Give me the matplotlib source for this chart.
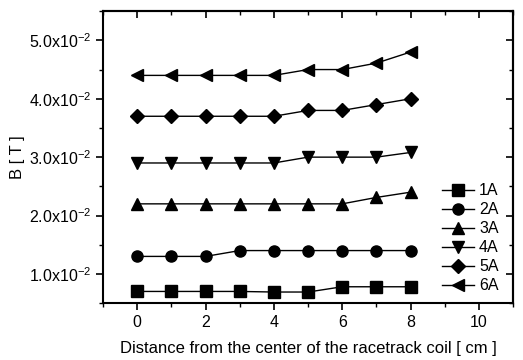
import matplotlib
matplotlib.use('Agg')
import matplotlib.pyplot as plt
from matplotlib.ticker import MultipleLocator, FuncFormatter

plt.rcParams['font.family'] = ['Liberation Sans', 'DejaVu Sans']
plt.rcParams['mathtext.fontset'] = 'custom'
plt.rcParams['mathtext.rm'] = 'Liberation Sans'
plt.rcParams['mathtext.it'] = 'Liberation Sans'

distance = [0, 1, 2, 3, 4, 5, 6, 7, 8]
b_1a = [0.0070, 0.0070, 0.0070, 0.0070, 0.0069, 0.0069, 0.0078, 0.0078, 0.0078]
b_2a = [0.0130, 0.0130, 0.0130, 0.0140, 0.0140, 0.0140, 0.0140, 0.0140, 0.0140]
b_3a = [0.0220, 0.0220, 0.0220, 0.0220, 0.0220, 0.0220, 0.0220, 0.0231, 0.0240]
b_4a = [0.0290, 0.0290, 0.0290, 0.0290, 0.0290, 0.0300, 0.0300, 0.0300, 0.0308]
b_5a = [0.0370, 0.0370, 0.0370, 0.0370, 0.0370, 0.0380, 0.0380, 0.0390, 0.0400]
b_6a = [0.0440, 0.0440, 0.0440, 0.0440, 0.0440, 0.0450, 0.0450, 0.0461, 0.0480]

labels = ['1A', '2A', '3A', '4A', '5A', '6A']
markers = ['s', 'o', '^', 'v', 'D', '<']

fig = plt.figure(figsize=(5.23, 3.60), dpi=100)
ax = fig.add_axes([0.197, 0.158, 0.784, 0.811])

for ys, lab, mk in zip([b_1a, b_2a, b_3a, b_4a, b_5a, b_6a], labels, markers):
    ms = 7 if mk == 'D' else 8
    ax.plot(distance, ys, color='black', lw=1.0, marker=mk, markersize=ms,
            label=lab)

ax.set_xlim(-1, 11)
ax.set_ylim(0.005, 0.055)
ax.xaxis.set_major_locator(MultipleLocator(2))
ax.xaxis.set_minor_locator(MultipleLocator(1))
ax.yaxis.set_major_locator(MultipleLocator(0.01))
ax.yaxis.set_minor_locator(MultipleLocator(0.005))


def sci_fmt(v, pos):
    return r'$%.1f\mathrm{x}10^{-2}$' % (v * 100)


ax.yaxis.set_major_formatter(FuncFormatter(sci_fmt))
ax.tick_params(which='major', direction='out', length=5, width=1.2, labelsize=11.5)
ax.tick_params(which='minor', direction='out', length=3, width=1.0)

# mirrored ticks on top and right, pointing inwards
top = ax.secondary_xaxis('top')
top.xaxis.set_major_locator(MultipleLocator(2))
top.xaxis.set_minor_locator(MultipleLocator(1))
top.tick_params(which='major', direction='in', length=5, width=1.2, labeltop=False)
top.tick_params(which='minor', direction='in', length=3, width=1.0)
right = ax.secondary_yaxis('right')
right.yaxis.set_major_locator(MultipleLocator(0.01))
right.yaxis.set_minor_locator(MultipleLocator(0.005))
right.tick_params(which='major', direction='in', length=5, width=1.2, labelright=False)
right.tick_params(which='minor', direction='in', length=3, width=1.0)

for sp in ax.spines.values():
    sp.set_linewidth(1.5)
for sp in top.spines.values():
    sp.set_linewidth(1.5)
for sp in right.spines.values():
    sp.set_linewidth(1.5)

ax.set_xlabel('Distance from the center of the racetrack coil [ cm ]', fontsize=12, labelpad=8)
ax.set_ylabel('B [ T ]', fontsize=12, labelpad=3)

ax.legend(loc='lower right', bbox_to_anchor=(1.0, -0.015), frameon=False, fontsize=11.5,
          handlelength=2.0, handletextpad=0.3, labelspacing=0.25)

fig.savefig('out.png', dpi=100)
